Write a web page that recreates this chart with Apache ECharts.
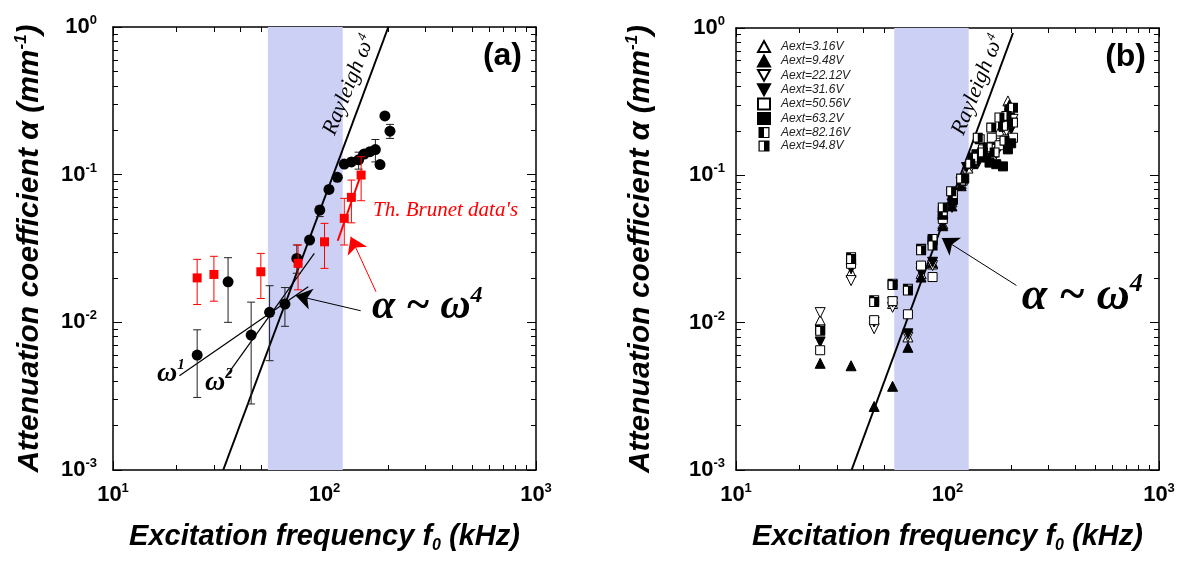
<!DOCTYPE html>
<html><head><meta charset="utf-8">
<script src="https://cdn.jsdelivr.net/npm/echarts@6/dist/echarts.min.js"></script>
<style>html,body{margin:0;padding:0;background:#fff}#c{width:1187px;height:563px}</style>
</head><body><div id="c"></div>
<script>
// ---------- tick values ----------
const xMajor = [10, 100, 1000];
const xMinor = [20,30,40,50,60,70,80,90,200,300,400,500,600,700,800,900];
const yMajor = [0.001, 0.01, 0.1, 1];
const yMinor = [0.002,0.003,0.004,0.005,0.006,0.007,0.008,0.009,0.02,0.03,0.04,0.05,0.06,0.07,0.08,0.09,0.2,0.3,0.4,0.5,0.6,0.7,0.8,0.9];

// ---------- panel (a) data ----------
const circlesA = [[25,0.0060],[35,0.0188],[45,0.0082],[55,0.0117],[65,0.0133],[74,0.0271],[85,0.0361],[95,0.0576],[105,0.0795],[115,0.0959],[124,0.118],[134,0.122],[145,0.126],[154,0.138],[164,0.143],[174,0.148],[183,0.117],[193,0.250],[204,0.197]];
const circlesAErr = [[25,0.0031,0.0089],[35,0.0100,0.0274],[45,0.0028,0.0137],[55,0.0055,0.0177],[65,0.0094,0.0172],[74,0.0215,0.0334],[95,0.052,0.0612],[145,0.109,0.142],[174,0.122,0.173],[204,0.176,0.219]];
const squaresA = [[25,0.0200],[30,0.0211],[50,0.0220],[75,0.0251],[100,0.0351],[124,0.0506],[134,0.0702],[149,0.0994]];
const squaresAErr = [[25,0.0132,0.0267],[30,0.0139,0.0280],[50,0.0145,0.0293],[75,0.0166,0.0334],[100,0.0232,0.0468],[124,0.0334,0.0691],[134,0.0472,0.0919],[149,0.0666,0.1322]];
const brunetFit = [[115.5,0.0357],[150.9,0.1063]];
const rayleighA = [[33.2,0.001],[200.4,1]];
const omega1 = [[20.6,0.00435],[83.8,0.0174]];
const omega2 = [[34.2,0.00429],[89.5,0.0293]];
const bandA = [54, 122];

// ---------- panel (b) data ----------
const seriesNamesB = ['Aext=3.16V','Aext=9.48V','Aext=22.12V','Aext=31.6V','Aext=50.56V','Aext=63.2V','Aext=82.16V','Aext=94.8V'];
const b316 = [[25,0.0104],[35,0.0220],[55,0.0135],[65,0.0080],[75,0.0215],[85,0.0250],[95,0.047],[105,0.066],[116,0.088],[125,0.112],[142,0.150],[160,0.165],[176,0.200],[193,0.320],[200,0.270]];
const b948 = [[25,0.0053],[35,0.0051],[45,0.0027],[55,0.0037],[65,0.0068],[75,0.0204],[85,0.0255],[95,0.0455],[105,0.062],[116,0.085],[132,0.120],[147,0.140],[165,0.170],[185,0.215],[196,0.300]];
const b2212 = [[25,0.0117],[35,0.0193],[45,0.0091],[55,0.0127],[65,0.0080],[75,0.0235],[85,0.0244],[95,0.0468],[105,0.064],[116,0.090],[130,0.115],[145,0.135],[160,0.150],[175,0.165],[190,0.200],[204,0.240]];
const b316b = [[25,0.0074],[35,0.0232],[45,0.0101],[55,0.0138],[65,0.0084],[75,0.0220],[85,0.0257],[95,0.0478],[105,0.0606],[116,0.0895],[123,0.113],[140,0.122],[155,0.130],[170,0.140],[185,0.160],[200,0.205]];
const b5056 = [[25,0.0065],[35,0.0251],[45,0.0104],[55,0.0140],[65,0.0114],[75,0.0244],[85,0.0204],[95,0.0506],[106,0.070],[118,0.092],[132,0.128],[147,0.150],[162,0.180],[176,0.160],[190,0.175],[204,0.180]];
const b632 = [[85,0.036],[95,0.054],[106,0.068],[120,0.095],[137,0.139],[152,0.132],[158,0.122],[170,0.119],[183,0.115],[193,0.150],[200,0.165]];
const b8216 = [[25,0.0090],[35,0.0278],[45,0.0142],[55,0.0184],[65,0.0170],[75,0.0317],[85,0.0370],[95,0.057],[106,0.0747],[116,0.092],[132,0.132],[142,0.176],[155,0.155],[167,0.143],[183,0.217],[196,0.281],[204,0.228]];
const b948b = [[25,0.0088],[35,0.0270],[45,0.0138],[55,0.0180],[65,0.0165],[75,0.0310],[85,0.0334],[95,0.0606],[104,0.078],[116,0.095],[128,0.120],[139,0.180],[147,0.143],[161,0.211],[176,0.247],[186,0.172],[190,0.253],[204,0.288]];
const rayleighB = [[35.2,0.001],[204,0.925]];
const bandB = [56, 126];

// ---------- styling ----------
const SANS = 'Liberation Sans', SERIF = 'Liberation Serif';
const BAND = '#cdd0f5';
const tickRich = {
  b:{fontFamily:SANS,fontWeight:'bold',fontSize:22,lineHeight:26,verticalAlign:'middle',color:'#000'},
  s:{fontFamily:SANS,fontWeight:'bold',fontSize:13,lineHeight:13,verticalAlign:'top',color:'#000'}
};
function supLabel(v){ return '{b|10}{s|' + Math.round(Math.log10(v)) + '}'; }

function xAxes(g){
  const base = {type:'log',logBase:10,gridIndex:g,min:10,max:1000,splitLine:{show:false},minorTick:{show:false}};
  const line = {show:true,lineStyle:{color:'#000',width:1.5}};
  const tk = (vals,len)=>({show:true,inside:true,length:len,customValues:vals,lineStyle:{color:'#000',width:1}});
  return [
    Object.assign({},base,{position:'bottom',axisLine:line,axisTick:tk(xMajor,9),
      axisLabel:{show:true,customValues:xMajor,formatter:supLabel,margin:12,rich:tickRich},
      name:'Excitation frequency {f|f}{sub|0} (kHz)',nameLocation:'middle',nameGap:50,
      nameTextStyle:{fontFamily:SANS,fontWeight:'bold',fontStyle:'italic',fontSize:29,color:'#000',lineHeight:34,
        rich:{f:{fontFamily:SANS,fontWeight:'bold',fontStyle:'italic',fontSize:29,lineHeight:34,verticalAlign:'middle',color:'#000'},
              sub:{fontFamily:SANS,fontWeight:'bold',fontStyle:'italic',fontSize:16,lineHeight:16,verticalAlign:'bottom',color:'#000'}}}}),
    Object.assign({},base,{position:'bottom',axisLine:{show:false},axisTick:tk(xMinor,5),axisLabel:{show:false}}),
    Object.assign({},base,{position:'top',axisLine:line,axisTick:tk(xMajor,9),axisLabel:{show:false}}),
    Object.assign({},base,{position:'top',axisLine:{show:false},axisTick:tk(xMinor,5),axisLabel:{show:false}})
  ];
}
function yAxes(g, labelMargin, gap){
  const base = {type:'log',logBase:10,gridIndex:g,min:0.001,max:1,splitLine:{show:false},minorTick:{show:false}};
  const line = {show:true,lineStyle:{color:'#000',width:1.5}};
  const tk = (vals,len)=>({show:true,inside:true,length:len,customValues:vals,lineStyle:{color:'#000',width:1}});
  return [
    Object.assign({},base,{position:'left',axisLine:line,axisTick:tk(yMajor,9),
      axisLabel:{show:true,customValues:yMajor,formatter:supLabel,margin:labelMargin,rich:tickRich},
      name:'Attenuation coefficient α (mm{s|-1})',nameLocation:'middle',nameGap:gap,nameRotate:90,
      nameTextStyle:{fontFamily:SANS,fontWeight:'bold',fontStyle:'italic',fontSize:30,color:'#000',lineHeight:34,
        rich:{s:{fontFamily:SANS,fontWeight:'bold',fontStyle:'italic',fontSize:17,lineHeight:17,verticalAlign:'top',color:'#000'}}}}),
    Object.assign({},base,{position:'left',axisLine:{show:false},axisTick:tk(yMinor,5),axisLabel:{show:false}}),
    Object.assign({},base,{position:'right',axisLine:line,axisTick:tk(yMajor,9),axisLabel:{show:false}}),
    Object.assign({},base,{position:'right',axisLine:{show:false},axisTick:tk(yMinor,5),axisLabel:{show:false}})
  ];
}

function errRender(color){
  return function(params, api){
    const x = api.value(0), lo = api.value(1), hi = api.value(2);
    const p1 = api.coord([x, lo]), p2 = api.coord([x, hi]);
    const w = 4, st = {stroke:color, lineWidth:1, fill:null};
    return {type:'group', children:[
      {type:'line', shape:{x1:p1[0],y1:p1[1],x2:p2[0],y2:p2[1]}, style:st},
      {type:'line', shape:{x1:p1[0]-w,y1:p1[1],x2:p1[0]+w,y2:p1[1]}, style:st},
      {type:'line', shape:{x1:p2[0]-w,y1:p2[1],x2:p2[0]+w,y2:p2[1]}, style:st}
    ]};
  };
}

const ax = (g)=>({xAxisIndex:g*4, yAxisIndex:g*4});
const DOWN = 'path://M0,0L10,0L5,9Z';
const HALF_L = 'path://M0,0H10V10H0Z M5,1.1V8.9H8.9V1.1Z';
const HALF_R = 'path://M0,0H10V10H0Z M1.1,1.1V8.9H5V1.1Z';

const serifRich = (size, sup)=>({
  a:{fontFamily:SERIF,fontStyle:'italic',fontWeight:'bold',fontSize:size,lineHeight:size+4,verticalAlign:'middle',color:'#000'},
  s:{fontFamily:SERIF,fontStyle:'italic',fontWeight:'bold',fontSize:sup,lineHeight:sup,verticalAlign:'top',color:'#000'}
});
const rayRich = {
  r:{fontFamily:SERIF,fontStyle:'italic',fontSize:22,lineHeight:24,verticalAlign:'middle',color:'#000'},
  s:{fontFamily:SERIF,fontStyle:'italic',fontSize:13,lineHeight:13,verticalAlign:'top',color:'#000'}
};
function note(v, text, lab){ return {value:v, label:Object.assign({show:true, formatter:text, opacity:1, textBorderWidth:0}, lab)}; }

function scat(name, data, symbol, fill, size, g, bw){
  return Object.assign({type:'scatter', name, data, symbol, symbolSize:size, z:6,
    itemStyle:{color:fill, borderColor:'#000', borderWidth:(bw===undefined?1:bw), opacity:1}}, ax(g));
}

const series = [
  // ----- panel a -----
  Object.assign({type:'line', data:[], z:1, silent:true,
    markArea:{silent:true, itemStyle:{color:BAND, opacity:1}, data:[[{xAxis:bandA[0]},{xAxis:bandA[1]}]]}}, ax(0)),
  Object.assign({type:'line', data:rayleighA, symbol:'none', z:3, lineStyle:{color:'#000', width:2}}, ax(0)),
  Object.assign({type:'line', data:omega1, symbol:'none', z:3, lineStyle:{color:'#000', width:1.2}}, ax(0)),
  Object.assign({type:'line', data:omega2, symbol:'none', z:3, lineStyle:{color:'#000', width:1.2}}, ax(0)),
  Object.assign({type:'custom', data:circlesAErr, renderItem:errRender('#222'), encode:{x:0,y:[1,2]}, z:4, silent:true}, ax(0)),
  Object.assign({type:'scatter', data:circlesA, symbol:'circle', symbolSize:11, z:5, itemStyle:{color:'#000', opacity:1}}, ax(0)),
  Object.assign({type:'custom', data:squaresAErr, renderItem:errRender('#ff0000'), encode:{x:0,y:[1,2]}, z:6, silent:true}, ax(0)),
  Object.assign({type:'line', data:brunetFit, symbol:'none', z:6, lineStyle:{color:'#ff0000', width:2}}, ax(0)),
  Object.assign({type:'scatter', data:squaresA, symbol:'rect', symbolSize:9, z:7, itemStyle:{color:'#ff0000', opacity:1}}, ax(0)),
  Object.assign({type:'scatter', symbolSize:0, z:10, silent:true, itemStyle:{opacity:1},
    markLine:{silent:true, symbol:['none','arrow'], symbolSize:16, label:{show:false},
      data:[
        [{coord:[148.3,0.01198]},{coord:[73,0.0152], lineStyle:{color:'#000',width:1,type:'solid'}}],
        [{coord:[175.2,0.01611]},{coord:[133,0.0380], lineStyle:{color:'#ff0000',width:1,type:'solid'}}]
      ], lineStyle:{type:'solid'}},
    data:[
      note([130.6,0.404], '{r|Rayleigh ω}{s|4}', {position:'inside', rotate:68, rich:rayRich}),
      note([694,0.637], '(a)', {position:'inside', fontFamily:SANS, fontWeight:'bold', fontSize:32, color:'#000'}),
      note([169.6,0.0576], "Th. Brunet data's", {position:'right', distance:0, fontFamily:SERIF, fontStyle:'italic', fontSize:21, color:'#ff0000'}),
      note([167.7,0.0127], '{a|α ~ ω}{s|4}', {position:'right', distance:0, rich:serifRich(42,24)}),
      note([16.14,0.00447], '{a|ω}{s|1}', {position:'right', distance:0, rich:serifRich(28,15)}),
      note([27.2,0.00388], '{a|ω}{s|2}', {position:'right', distance:0, rich:serifRich(28,15)})
    ]}, ax(0)),
  // ----- panel b -----
  Object.assign({type:'line', data:[], z:1, silent:true,
    markArea:{silent:true, itemStyle:{color:BAND, opacity:1}, data:[[{xAxis:bandB[0]},{xAxis:bandB[1]}]]}}, ax(1)),
  Object.assign({type:'line', data:rayleighB, symbol:'none', z:3, lineStyle:{color:'#000', width:2}}, ax(1)),
  scat(seriesNamesB[0], b316, 'triangle', '#fff', 10, 1),
  scat(seriesNamesB[1], b948, 'triangle', '#000', 10, 1),
  scat(seriesNamesB[2], b2212, DOWN, '#fff', 10, 1),
  scat(seriesNamesB[3], b316b, DOWN, '#000', 10, 1),
  scat(seriesNamesB[4], b5056, 'rect', '#fff', 9, 1),
  scat(seriesNamesB[5], b632, 'rect', '#000', 9, 1),
  scat('under82', b8216, 'rect', '#fff', 9, 1, 0),
  scat(seriesNamesB[6], b8216, HALF_L, '#000', 10, 1, 0),
  scat('under94', b948b, 'rect', '#fff', 9, 1, 0),
  scat(seriesNamesB[7], b948b, HALF_R, '#000', 10, 1, 0),
  Object.assign({type:'scatter', symbolSize:0, z:10, silent:true, itemStyle:{opacity:1},
    markLine:{silent:true, symbol:['none','arrow'], symbolSize:16, label:{show:false},
      data:[[{coord:[211.8,0.01789]},{coord:[94,0.0375], lineStyle:{color:'#000',width:1,type:'solid'}}]]},
    data:[
      note([139,0.4106], '{r|Rayleigh ω}{s|4}', {position:'inside', rotate:68, rich:rayRich}),
      note([695,0.637], '(b)', {position:'inside', fontFamily:SANS, fontWeight:'bold', fontSize:32, color:'#000'}),
      note([224.4,0.0150], '{a|α ~ ω}{s|4}', {position:'right', distance:0, rich:serifRich(46,26)})
    ]}, ax(1))
];

const chart = echarts.init(document.getElementById('c'), null, {renderer:'canvas'});
chart.setOption({
  animation:false,
  backgroundColor:'#fff',
  grid:[{left:113, top:27, width:423, height:443},{left:736, top:28, width:423, height:442}],
  xAxis: xAxes(0).concat(xAxes(1)),
  yAxis: yAxes(0,16,66).concat(yAxes(1,11,78)),
  legend:{data:seriesNamesB, orient:'vertical', left:752, top:35, itemWidth:12, itemHeight:11, itemGap:1.5,
    selectedMode:false, textStyle:{fontFamily:SANS, fontStyle:'italic', fontSize:12, color:'#222', padding:[0,0,0,6]}},
  series
});
</script></body></html>
